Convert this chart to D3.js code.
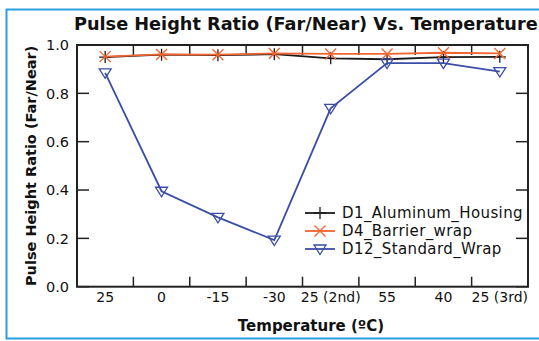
<!DOCTYPE html>
<html>
<head>
<meta charset="utf-8">
<script src="https://cdn.jsdelivr.net/npm/d3@7"></script>
<style>
  body { margin: 0; background: #fff; }
  text { font-family: "DejaVu Sans", sans-serif; fill: #111; }
</style>
</head>
<body>
<div id="chart"></div>
<script>
var categories = ["25", "0", "-15", "-30", "25 (2nd)", "55", "40", "25 (3rd)"];
var d1Aluminum = [0.950, 0.960, 0.958, 0.962, 0.945, 0.941, 0.950, 0.951];
var d4Barrier  = [0.952, 0.961, 0.960, 0.965, 0.963, 0.963, 0.968, 0.965];
var d12Standard = [0.885, 0.395, 0.287, 0.193, 0.738, 0.925, 0.925, 0.890];
var yTicks = [0, 0.2, 0.4, 0.6, 0.8, 1.0];

var series = [
  {name: "D1_Aluminum_Housing", values: d1Aluminum, color: "#1a1a1a", marker: "plus"},
  {name: "D4_Barrier_wrap", values: d4Barrier, color: "#f26430", marker: "cross"},
  {name: "D12_Standard_Wrap", values: d12Standard, color: "#3a4ea6", marker: "tri"}
];

var width = 539, height = 341,
    margin = {top: 45, right: 11, bottom: 54, left: 77};

var svg = d3.select("#chart").append("svg")
  .attr("width", width)
  .attr("height", height);

// blue frame
svg.append("path")
  .attr("d", "M545,9.5H6.5V338.5H545")
  .attr("fill", "none")
  .attr("stroke", "#2a9fe0")
  .attr("stroke-width", 2);

var x = d3.scaleBand()
  .domain(categories)
  .range([margin.left, width - margin.right]);

var y = d3.scaleLinear()
  .domain([0, 1])
  .range([height - margin.bottom - 0.3, margin.top]);

var g = svg.append("g");

// ticks at category boundaries (bottom & top), inward
var bounds = categories.slice(1).map(function(c) { return x(c); });
g.selectAll(".bt").data(bounds).enter().append("line")
  .attr("x1", function(d) { return d; }).attr("x2", function(d) { return d; })
  .attr("y1", y(0)).attr("y2", y(0) - 10)
  .attr("stroke", "#222").attr("stroke-width", 1.5);
g.selectAll(".tt").data(bounds).enter().append("line")
  .attr("x1", function(d) { return d; }).attr("x2", function(d) { return d; })
  .attr("y1", y(1)).attr("y2", y(1) + 10)
  .attr("stroke", "#222").attr("stroke-width", 1.5);

// y ticks left & right, inward
g.selectAll(".lt").data(yTicks).enter().append("line")
  .attr("x1", margin.left).attr("x2", margin.left + 12)
  .attr("y1", function(d) { return y(d); }).attr("y2", function(d) { return y(d); })
  .attr("stroke", "#222").attr("stroke-width", 1.5);
g.selectAll(".rt").data(yTicks).enter().append("line")
  .attr("x1", width - margin.right).attr("x2", width - margin.right - 12)
  .attr("y1", function(d) { return y(d); }).attr("y2", function(d) { return y(d); })
  .attr("stroke", "#222").attr("stroke-width", 1.5);

// frame of plot
g.append("rect")
  .attr("x", margin.left).attr("y", y(1))
  .attr("width", width - margin.right - margin.left)
  .attr("height", y(0) - y(1))
  .attr("fill", "none").attr("stroke", "#222").attr("stroke-width", 2);

// tick labels
g.selectAll(".yl").data(yTicks).enter().append("text")
  .attr("x", margin.left - 8)
  .attr("y", function(d) { return y(d); })
  .attr("dy", "0.36em")
  .attr("text-anchor", "end")
  .style("font-size", "14.5px")
  .text(d3.format(".1f"));

g.selectAll(".xl").data(categories).enter().append("text")
  .attr("x", function(d) { return x(d) + x.bandwidth() / 2; })
  .attr("y", 302)
  .attr("text-anchor", "middle")
  .style("font-size", "14px")
  .text(function(d) { return d; });

// titles
svg.append("text")
  .attr("x", 74).attr("y", 30)
  .attr("text-anchor", "start")
  .style("font-size", "17.7px").style("font-weight", "bold")
  .text("Pulse Height Ratio (Far/Near) Vs. Temperature");

svg.append("text")
  .attr("x", 311).attr("y", 331)
  .attr("text-anchor", "middle")
  .style("font-size", "15px").style("font-weight", "bold")
  .text("Temperature (\u00baC)");

svg.append("text")
  .attr("transform", "translate(36," + ((y(0) + y(1)) / 2) + ") rotate(-90)")
  .attr("text-anchor", "middle")
  .style("font-size", "14.5px").style("font-weight", "bold")
  .text("Pulse Height Ratio (Far/Near)");

// marker drawing
function drawMarker(sel, type, color) {
  if (type === "plus") {
    sel.append("path").attr("d", "M-6,0H6M0,-6V6")
      .attr("stroke", color).attr("stroke-width", 1.3).attr("fill", "none");
  } else if (type === "cross") {
    sel.append("path").attr("d", "M-5.5,-5.5L5.5,5.5M-5.5,5.5L5.5,-5.5")
      .attr("stroke", color).attr("stroke-width", 1.3).attr("fill", "none");
  } else {
    sel.append("path").attr("d", "M-6,-4L6,-4L0,5.5Z")
      .attr("stroke", color).attr("stroke-width", 1.3).attr("fill", "none");
  }
}

var line = d3.line()
  .x(function(d, i) { return x(categories[i]) + x.bandwidth() / 2; })
  .y(function(d) { return y(d); });

series.forEach(function(s) {
  var sg = g.append("g");
  sg.append("path")
    .attr("d", line(s.values))
    .attr("fill", "none")
    .attr("stroke", s.color)
    .attr("stroke-width", 1.8);
  s.values.forEach(function(v, i) {
    var m = sg.append("g")
      .attr("transform", "translate(" + (x(categories[i]) + x.bandwidth() / 2) + "," + y(v) + ")");
    drawMarker(m, s.marker, s.color);
  });
});

// legend
var legend = svg.append("g").attr("transform", "translate(305,213)");
series.forEach(function(s, i) {
  var lg = legend.append("g").attr("transform", "translate(0," + (i * 18) + ")");
  lg.append("line").attr("x1", 0).attr("x2", 30).attr("y1", 0).attr("y2", 0)
    .attr("stroke", s.color).attr("stroke-width", 1.8);
  var m = lg.append("g").attr("transform", "translate(15,0)");
  drawMarker(m, s.marker, s.color);
  lg.append("text").attr("x", 37).attr("dy", "0.36em")
    .style("font-size", "15px").style("letter-spacing", "0.4px")
    .text(s.name);
});
</script>
</body>
</html>
